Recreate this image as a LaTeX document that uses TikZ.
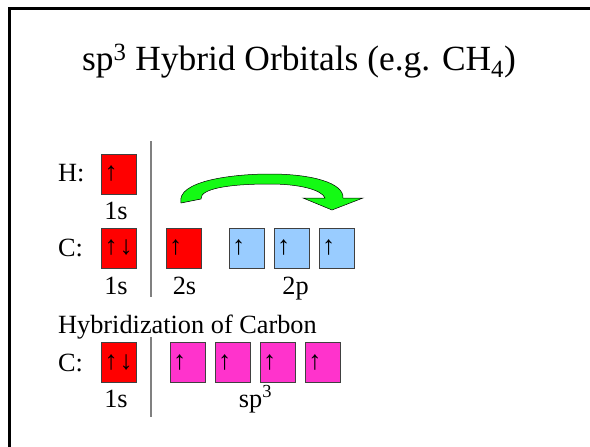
\documentclass[tikz,border=0pt]{standalone}
\usepackage{fontspec}
\setmainfont{Liberation Serif}
\usetikzlibrary{positioning}
\definecolor{orbred}{RGB}{255,0,0}
\definecolor{orbblue}{RGB}{153,204,255}
\definecolor{orbpink}{RGB}{255,51,204}
\definecolor{swapgreen}{RGB}{20,250,20}
\tikzset{
  orbital/.style={draw=black!75, line width=0.6pt, minimum height=40pt, text width=29pt, inner xsep=3pt, inner ysep=0pt, align=left, font=\fontsize{26.3}{28}\selectfont},
  redorb/.style={orbital, fill=orbred},
  blueorb/.style={orbital, fill=orbblue},
  pinkorb/.style={orbital, fill=orbpink},
  txt/.style={inner sep=0pt, font=\fontsize{26.3}{30}\selectfont},
  heading/.style={inner sep=0pt, font=\fontsize{35.4}{40}\selectfont},
  divider/.style={draw=black!50, line width=1.5pt},
  swaparrow/.style={draw=black, line width=0.5pt, fill=swapgreen}
}
\begin{document}
\begin{tikzpicture}[x=1pt, y=-1pt, node distance=9.5pt]
\useasboundingbox (0,0) rectangle (590,447);
\draw[line width=2.8pt] (9.5,447) -- (9.5,8.5) -- (590,8.5);
\node[heading, anchor=base] (title) at (299,70) {sp\textsuperscript{3} Hybrid Orbitals (e.g. CH\textsubscript{4})};
% hydrogen
\node[txt, anchor=base west] (hlab) at (58,181) {H:};
\node[redorb] (h1s) at (119,174) {↑};
\node[txt, anchor=base] (h1slab) at (116,219) {1s};
% carbon, ground state
\node[txt, anchor=base west] (clab) at (58,256) {C:};
\node[redorb] (c1s) at (119,248) {\mbox{↑\hspace{2pt}↓}};
\node[redorb] (c2s) at (183.5,248) {↑};
\node[blueorb] (c2px) at (246.5,248) {↑};
\node[blueorb, right=of c2px] (c2py) {↑};
\node[blueorb, right=of c2py] (c2pz) {↑};
\node[txt, anchor=base] (c1slab) at (116,294) {1s};
\node[txt, anchor=base] (c2slab) at (184.5,294) {2s};
\node[txt, anchor=base] (c2plab) at (295.5,294) {2p};
\draw[divider] (151,141) -- (151,297);
% promotion arrow
\draw[swaparrow] (181,203) .. controls (176,181) and (232,174) .. (270,174)
  .. controls (312,174) and (344,183) .. (343,198) -- (363,198) -- (332,210) -- (303,198) -- (325,198)
  .. controls (322,190) and (300,184) .. (270,184)
  .. controls (232,184) and (200,188) .. (201,199) -- cycle;
% hybridized carbon
\node[txt, anchor=base west] (hybrid) at (58,333) {Hybridization of Carbon};
\node[txt, anchor=base west] (hclab) at (58,371.5) {C:};
\node[redorb] (hc1s) at (119,362) {\mbox{↑\hspace{2pt}↓}};
\node[pinkorb] (sp1) at (187.5,362) {↑};
\node[pinkorb, right=of sp1] (sp2) {↑};
\node[pinkorb, right=of sp2] (sp3) {↑};
\node[pinkorb, right=of sp3] (sp4) {↑};
\node[txt, anchor=base] (hc1slab) at (116,407) {1s};
\node[txt, anchor=base] (splab) at (255.5,407) {sp\textsuperscript{3}};
\draw[divider] (151,337) -- (151,417);
\end{tikzpicture}
\end{document}
